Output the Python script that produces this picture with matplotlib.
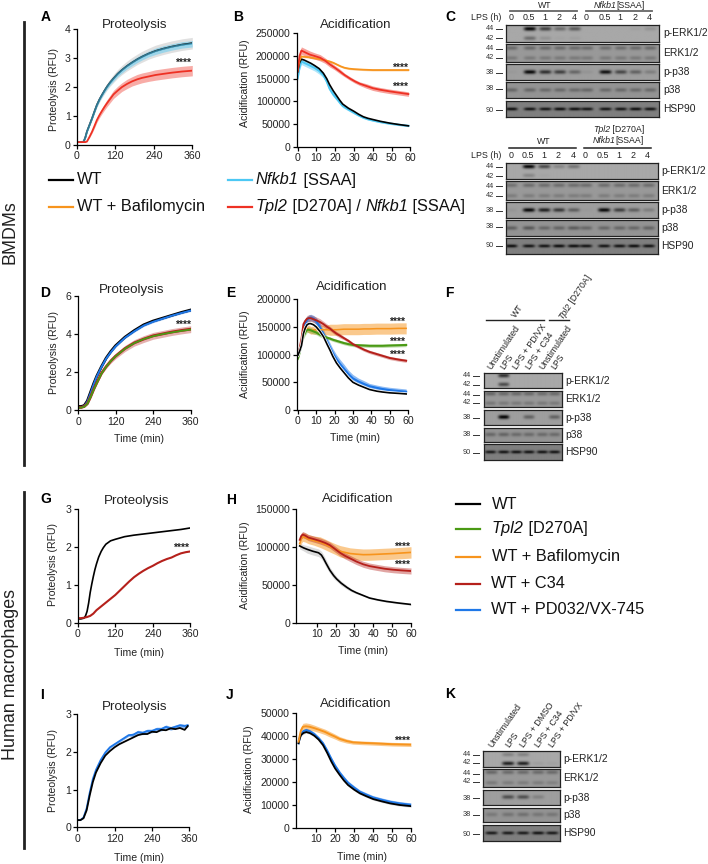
import numpy as np
import matplotlib
matplotlib.use('Agg')
import matplotlib.pyplot as plt

plt.rcParams['font.family'] = ['Liberation Sans', 'DejaVu Sans']

W, H = 708, 864

BLACK = '#000000'
SKY = '#4cc8f4'
ORANGE = '#f7941d'
RED = '#ee3124'
GREEN = '#4a9a14'
DKRED = '#b5201b'
BLUE = '#1f78e8'

# Panel A
t_a = [0, 15, 21, 26, 31, 39, 47, 55, 62, 70, 78, 86, 94, 104, 114, 127, 140, 156, 172, 188, 203, 224, 245, 270, 296, 328, 360]
a_wt = [.1, .1, .12, .26, .46, .69, .92, 1.17, 1.38, 1.57, 1.73, 1.88, 2.02, 2.17, 2.3, 2.46, 2.59, 2.73, 2.85, 2.96, 3.05, 3.16, 3.25, 3.33, 3.4, 3.47, 3.52]
a_wt_sem = [0, 0, 0, .01, .02, .03, .05, .06, .08, .09, .1, .11, .12, .13, .14, .15, .16, .17, .18, .18, .19, .19, .2, .2, .2, .2, .2]
a_ssaa = [.1, .1, .12, .25, .45, .68, .91, 1.16, 1.37, 1.56, 1.72, 1.87, 2.01, 2.16, 2.29, 2.45, 2.58, 2.72, 2.84, 2.95, 3.04, 3.15, 3.24, 3.32, 3.39, 3.46, 3.5]
a_ssaa_sem = [0, 0, 0, .01, .01, .02, .03, .04, .05, .05, .06, .06, .07, .07, .08, .08, .09, .09, .1, .1, .1, .1, .11, .11, .11, .11, .11]
a_tpl = [.1, .1, .1, .1, .12, .28, .46, .67, .86, 1.03, 1.18, 1.32, 1.45, 1.6, 1.75, 1.88, 2.0, 2.11, 2.2, 2.27, 2.32, 2.37, 2.42, 2.46, 2.5, 2.54, 2.57]
a_tpl_sem = [0, 0, 0, 0, .01, .03, .05, .07, .08, .09, .1, .11, .12, .13, .14, .15, .15, .16, .16, .17, .17, .17, .18, .18, .18, .18, .18]

# Panel B
t_b = [0, 1, 2, 3.5, 5, 7, 9, 11.5, 13.7, 15.5, 17, 19, 21, 22.5, 24, 27, 30, 32.5, 35, 37.5, 40, 44, 49, 54, 59]
b_wt = np.array([165, 185, 193, 191, 188, 184, 179, 172, 162, 150, 137, 123, 111, 102, 94, 85, 78, 71.5, 66, 62.5, 60, 56, 52, 48.8, 46]) * 1000
b_wt_sem = [2000] * 25
b_ssaa = np.array([151, 175, 188, 185, 182, 178, 174, 167, 158, 144, 128, 115, 105, 97, 90, 82, 75, 69, 64, 60.5, 58, 54.5, 51, 48.3, 46]) * 1000
b_ssaa_sem = np.array([4, 6, 7, 7, 7, 7, 7, 7, 6, 6, 5, 5, 4, 4, 4, 3, 3, 2, 2, 2, 2, 2, 2, 2, 2]) * 1000
b_baf_t = [0, 1, 2, 4, 6.5, 9, 12, 14.5, 17, 19, 21, 23, 25, 27.5, 30, 35, 40, 59]
b_baf = np.array([168, 190, 199, 198, 197, 195, 193, 190.5, 188, 185, 181, 177, 174, 172, 171, 169.8, 169, 169]) * 1000
b_baf_sem = [2000] * 18
b_tpl_t = [0, 1, 2, 4, 6.5, 9, 12, 14.5, 17, 19.5, 22.5, 25, 28, 30.5, 33, 36.5, 40, 44, 49, 54, 59]
b_tpl = np.array([166, 200, 212, 208, 203, 200, 196, 190, 182, 175, 166, 158, 150, 144, 139, 134, 129, 125.5, 122, 119, 116]) * 1000
b_tpl_sem = np.array([5, 8, 8, 8, 8, 7, 7, 6, 6, 5, 5, 4, 4, 4, 4, 5, 5, 5, 5, 5, 5]) * 1000

# Panel D
t_d = [0, 10, 20, 30, 40, 50, 60, 75, 90, 105, 120, 150, 180, 210, 240, 270, 300, 330, 360]
d_wt = [.2, .2, .25, .5, .95, 1.4, 1.8, 2.3, 2.75, 3.1, 3.4, 3.85, 4.2, 4.5, 4.7, 4.85, 5, 5.15, 5.28]
d_wt_sem = [.02] * 7 + [.04] * 12
d_blue = [.17, .17, .22, .46, .9, 1.36, 1.78, 2.28, 2.72, 3.06, 3.36, 3.82, 4.16, 4.46, 4.66, 4.82, 4.98, 5.12, 5.25]
d_blue_sem = [.03] * 7 + [.05] * 12
d_c34 = [.15, .15, .2, .35, .7, 1.1, 1.45, 1.95, 2.3, 2.6, 2.85, 3.25, 3.55, 3.75, 3.92, 4.02, 4.12, 4.2, 4.27]
d_c34_sem = [.02, .02, .02, .04, .06, .08, .08, .08, .1, .12, .14, .16, .17, .18, .18, .18, .18, .18, .18]
d_green = [.14, .14, .19, .34, .69, 1.08, 1.43, 1.93, 2.29, 2.59, 2.84, 3.24, 3.54, 3.75, 3.9, 4.01, 4.1, 4.18, 4.25]
d_green_sem = [.02] * 19

# Panel E
t_e = [0, 1, 2, 3, 4, 5, 6, 7, 8.5, 10, 12, 14, 16, 17.5, 19, 21, 23, 25, 27.5, 30, 33, 36, 39, 43, 46, 50, 55, 59]
e_wt = np.array([99, 107, 117, 138, 148, 154, 156, 156, 154, 150, 142, 132, 118, 108, 97, 85, 76, 68, 58, 50, 45, 41, 37, 34, 32.5, 31, 30, 29]) * 1000
e_blue = np.array([98, 107, 118, 145, 156, 163, 166, 167, 165, 160, 150, 137, 123, 113, 103, 92, 83, 75, 65, 57, 51.5, 47, 43, 40, 38, 36, 34.3, 33]) * 1000
e_blue_sem = np.array([4, 4, 5, 6, 6, 6, 6, 6, 6, 7, 7, 8, 8, 8, 8, 8, 8, 8, 7, 7, 6, 6, 5, 5, 5, 5, 5, 5]) * 1000
e_baf = np.array([95, 108, 125, 150, 150, 148, 146, 144, 144.5, 145, 145, 145, 145, 145, 145, 145, 145.5, 146, 146, 146, 146, 146.5, 146.5, 147, 147, 147, 147.5, 147.5]) * 1000
e_baf_sem = np.array([3, 3, 4, 6, 6, 7, 7, 7, 7, 8, 8, 9, 9, 10, 10, 10, 10, 10, 10, 10, 10, 10, 10, 10, 10, 10, 10, 10]) * 1000
e_c34 = np.array([100, 112, 130, 155, 161, 165, 166, 166, 164, 162, 159, 155, 150, 147, 143, 138, 134, 130, 125, 119, 114, 109, 105, 101, 98, 94, 91, 89]) * 1000
e_c34_sem = np.array([2, 2, 3, 5, 5, 6, 6, 6, 6, 6, 6, 5, 5, 4, 4, 4, 4, 3, 3, 3, 3, 3, 3, 3, 3, 3, 3, 3]) * 1000
e_green = np.array([93, 105, 120, 133, 140, 145, 145, 144, 142, 140, 136, 133, 130.5, 129, 127, 125, 123, 121, 119, 117.5, 117, 116.5, 116, 116, 116, 116.5, 117, 117.5]) * 1000
e_green_sem = np.array([4, 4, 4, 5, 5, 5, 5, 5, 5, 4, 4, 4, 3, 3, 3, 3, 3, 3, 3, 3, 3, 3, 3, 3, 3, 3, 3, 3]) * 1000

# Panel G
t_g_wt = [0, 10, 20, 25, 30, 35, 40, 45, 50, 55, 60, 67, 75, 82, 90, 105, 120, 150, 180, 210, 240, 270, 300, 330, 360]
g_wt = [.1, .1, .12, .18, .3, .52, .8, 1.02, 1.22, 1.4, 1.55, 1.73, 1.88, 1.98, 2.07, 2.16, 2.2, 2.27, 2.31, 2.34, 2.37, 2.4, 2.43, 2.46, 2.5]
t_g_c34 = [0, 10, 20, 30, 40, 50, 60, 75, 90, 105, 120, 135, 150, 165, 180, 195, 210, 225, 240, 255, 270, 285, 300, 315, 330, 345, 360]
g_c34 = [.12, .12, .13, .15, .18, .24, .33, .43, .53, .63, .73, .85, .97, 1.09, 1.2, 1.29, 1.37, 1.44, 1.5, 1.57, 1.63, 1.68, 1.72, 1.78, 1.83, 1.86, 1.88]

# Panel H
t_h_wt = [1, 3, 5, 8, 11, 12.5, 13.6, 15, 17, 19, 20.6, 23, 26, 28.5, 31, 34.5, 38, 42.5, 47, 53, 60]
h_wt = np.array([101, 98.5, 96.5, 94, 92, 89, 84.6, 78, 69, 62, 57.5, 52, 46.5, 42.5, 39.5, 36, 32.5, 30, 28, 26, 24]) * 1000
h_wt_sem = np.array([4, 4, 5, 5, 5, 5, 5, 5, 4, 4, 3, 3, 2.5, 2, 1.5, 1, 1, 1, 1, 1, 1]) * 1000
t_h = [1, 1.8, 2.6, 4, 5.6, 8.5, 11.8, 14.5, 17, 19.7, 22.4, 25, 27.7, 31, 34.7, 38, 41.8, 46, 50.6, 55, 60]
h_baf = np.array([104, 110, 113, 112, 110, 108, 106, 103, 100, 97, 94, 92.5, 91, 90.2, 89.5, 89.6, 90, 90.5, 91, 91.7, 92.5]) * 1000
h_baf_sem = np.array([6, 6, 6, 6, 6, 6, 7, 7, 7, 7, 7.5, 7.5, 7.5, 7.5, 7.5, 7.5, 7.5, 7.5, 7.5, 7.5, 7.5]) * 1000
h_c34 = np.array([109, 114, 116, 114.5, 112, 110, 107.5, 105, 102, 97, 92, 88, 84.6, 80.5, 76.8, 74.5, 72.8, 71, 69.7, 68.8, 68]) * 1000
h_c34_sem = [4000] * 21

# Panel I
t_i = [0, 10, 20, 30, 40, 50, 60, 75, 90, 105, 120, 135, 150, 165, 180, 195, 210, 225, 240, 255, 270, 285, 300, 315, 330, 345, 355]
i_wt = [.19, .19, .24, .45, .85, 1.2, 1.45, 1.7, 1.9, 2.02, 2.12, 2.2, 2.26, 2.32, 2.38, 2.44, 2.47, 2.47, 2.53, 2.52, 2.58, 2.57, 2.62, 2.6, 2.63, 2.58, 2.68]
i_blue = [.19, .19, .26, .5, .92, 1.28, 1.52, 1.78, 1.98, 2.12, 2.2, 2.28, 2.36, 2.44, 2.45, 2.52, 2.5, 2.55, 2.55, 2.6, 2.6, 2.66, 2.62, 2.66, 2.7, 2.68, 2.7]
i_blue_sem = [0] * 8 + [.03] * 6 + [.05] * 13

# Panel J
t_j = [.7, 1.3, 2, 3.3, 4.8, 6.8, 9, 11.3, 13.6, 15.8, 18, 20, 22.4, 24.6, 26.8, 30, 33, 36.5, 40, 44.5, 49, 54, 60]
j_wt = np.array([36.8, 38.8, 40.4, 41.3, 41.7, 41.2, 40.1, 38.4, 36, 32.6, 28.8, 25.8, 23, 20.6, 18.6, 16.6, 15, 13.7, 12.5, 11.5, 10.6, 9.9, 9.4]) * 1000
j_wt_sem = [500] * 23
j_blue = np.array([36.8, 39.2, 41, 42.1, 42.6, 42, 40.8, 39, 36.8, 33.6, 30, 27, 24, 21.7, 19.6, 17.5, 15.7, 14.4, 13.2, 12.2, 11.3, 10.6, 10]) * 1000
j_blue_sem = [800] * 23
t_j_baf = [.7, 1.3, 2, 3, 4.5, 6.5, 9, 11.8, 14.5, 17, 19.7, 22.4, 26, 29.5, 34, 40, 50, 60]
j_baf = np.array([37.5, 40, 42.5, 44, 44.2, 44, 43.4, 42.6, 41.8, 40.8, 39.8, 38.7, 37.8, 37.2, 37, 36.8, 36.4, 36.2]) * 1000
j_baf_sem = np.array([1, 1.2, 1.4, 1.5, 1.5, 1.4, 1.3, 1.2, 1.2, 1.2, 1.1, 1, 0.9, 0.8, 0.8, 0.8, 0.8, 0.8]) * 1000

# Blot band strengths, one value per lane
c1_perk44 = [0, .95, .6, .35, .45, 0, 0, 0, .04, .12]
c1_perk42 = [0, .35, .12, .03, .05, 0, 0, 0, 0, 0]
c1_erk44 = [.3, .3, .3, .3, .3, .28, .28, .28, .3, .3]
c1_erk42 = [.2, .2, .2, .2, .2, .2, .2, .2, .2, .2]
c1_pp38 = [.03, .95, .7, .6, .35, .06, .9, .55, .38, .2]
c1_p38 = [.3, .3, .28, .28, .28, .3, .28, .28, .28, .28]
c1_hsp = [.9, .85, .85, .9, .9, .85, .85, .85, .9, .85]

c2_perk44 = [0, .95, .55, .2, .3, 0, 0, 0, 0, 0]
c2_perk42 = [0, .2, .03, 0, 0, 0, 0, 0, 0, 0]
c2_erk44 = [.25, .28, .28, .28, .28, .28, .28, .28, .28, .28]
c2_erk42 = [.18, .18, .18, .18, .18, .18, .18, .18, .18, .18]
c2_pp38 = [.05, .95, .8, .65, .4, .03, .95, .6, .4, .2]
c2_p38 = [.35, .4, .3, .32, .38, .3, .3, .3, .3, .32]
c2_hsp = [.9, .85, .85, .9, .9, .85, .85, .85, .9, .85]

f_perk44 = [0, .7, 0, 0, 0, 0]
f_perk42 = [0, .55, 0, 0, 0, 0]
f_erk44 = [.32, .3, .3, .3, .28, .3]
f_erk42 = [.22, .2, .2, .2, .2, .2]
f_pp38 = [0, .98, 0, .38, 0, .38]
f_p38 = [.3, .32, .28, .28, .28, .28]
f_hsp = [.8, .85, .85, .85, .85, .85]

k_perk44 = [0, .22, .22, 0, 0]
k_perk42 = [0, .8, .8, .06, .04]
k_erk44 = [.32, .3, .3, .3, .3]
k_erk42 = [.2, .18, .18, .18, .15]
k_pp38 = [0, .5, .5, .18, 0]
k_p38 = [.18, .22, .24, .2, .2]
k_hsp = [.8, .8, .8, .85, .8]

blot_rows = ['p-ERK1/2', 'ERK1/2', 'p-p38', 'p38', 'HSP90']
lps_hours = ['0', '0.5', '1', '2', '4']
f_lanes = ['Unstimulated', 'LPS', 'LPS + PD/VX', 'LPS + C34', 'Unstimulated', 'LPS']
k_lanes = ['Unstimulated', 'LPS', 'LPS + DMSO', 'LPS + C34', 'LPS + PD/VX']

fig = plt.figure(figsize=(W / 100, H / 100), dpi=100)
renderer = fig.canvas.get_renderer()


def fx(px):
    return px / W


def fy(py):
    return 1 - py / H


def label(px, py, s, **kw):
    kw.setdefault('ha', 'center')
    kw.setdefault('va', 'center')
    return fig.text(fx(px), fy(py), s, **kw)


def rich(px, py, parts, size, angle=0, center=False, color='#222222'):
    # text with italic and upright pieces (mathtext keeps digits upright)
    widths = []
    for s, style in parts:
        t = fig.text(0, 0, s, fontsize=size, style=style)
        widths.append(t.get_window_extent(renderer).width)
        t.remove()
    dx, dy = np.cos(np.radians(angle)), np.sin(np.radians(angle))
    if center:
        px -= sum(widths) / 2 * dx
        py += sum(widths) / 2 * dy
    for (s, style), w in zip(parts, widths):
        label(px, py, s, fontsize=size, style=style, rotation=angle, rotation_mode='anchor', ha='left', color=color)
        px += w * dx
        py -= w * dy


def hline(x0, x1, y, color='#222222', lw=1.0):
    fig.add_artist(plt.Line2D([fx(x0), fx(x1)], [fy(y), fy(y)], color=color, lw=lw))


def curve_axes(x_px, y_px, xlim, ylim, xticks, yticks):
    ax = fig.add_axes([fx(x_px[0]), fy(y_px[1]), (x_px[1] - x_px[0]) / W, (y_px[1] - y_px[0]) / H])
    ax.set_xlim(xlim)
    ax.set_ylim(ylim)
    ax.set_xticks(xticks)
    ax.set_yticks(yticks)
    ax.tick_params(labelsize=7.6, length=3, width=0.9, pad=1.5, color='black', labelcolor='#222222')
    ax.spines['top'].set_visible(False)
    ax.spines['right'].set_visible(False)
    ax.spines['left'].set_linewidth(0.9)
    ax.spines['bottom'].set_linewidth(0.9)
    ax.patch.set_alpha(0)
    return ax


def band(ax, t, mean, sem, color, lw=1.3, alpha=0.38, line_alpha=1.0):
    mean = np.array(mean, dtype=float)
    sem = np.array(sem, dtype=float)
    ax.fill_between(t, mean - sem, mean + sem, color=color, alpha=alpha, lw=0)
    ax.plot(t, mean, color=color, lw=lw, alpha=line_alpha)


def stars(ax, x, y):
    ax.text(x, y, '****', fontsize=7.4, ha='center', va='center', fontweight='bold', color='#222222')


# A
ax = curve_axes((77, 192.3), (29.3, 145), (0, 360), (0, 4), [0, 120, 240, 360], [0, 1, 2, 3, 4])
band(ax, t_a, a_wt, a_wt_sem, '#9a9a9a', lw=1.3, alpha=0.3)
ax.plot(t_a, a_wt, color=BLACK, lw=1.2)
band(ax, t_a, a_ssaa, a_ssaa_sem, SKY, lw=1.4, alpha=0.45, line_alpha=0.6)
band(ax, t_a, a_tpl, a_tpl_sem, RED, alpha=0.4)
stars(ax, 334, 2.85)

# B
ax = curve_axes((296.7, 410.3), (33.3, 146.7), (-0.5, 60), (0, 250000), [0, 10, 20, 30, 40, 50, 60],
                [0, 50000, 100000, 150000, 200000, 250000])
band(ax, t_b, b_ssaa, b_ssaa_sem, SKY, lw=1.5, alpha=0.45)
ax.plot(t_b, b_wt, color=BLACK, lw=1.2)
band(ax, b_baf_t, b_baf, b_baf_sem, ORANGE)
band(ax, b_tpl_t, b_tpl, b_tpl_sem, RED, alpha=0.45)
stars(ax, 55, 174000)
stars(ax, 55, 132000)

# D
ax = curve_axes((78, 190.7), (296.3, 410.3), (0, 360), (0, 6), [0, 120, 240, 360], [0, 2, 4, 6])
ax.plot(t_d, d_wt, color=BLACK, lw=2.0)
band(ax, t_d, d_blue, d_blue_sem, BLUE, lw=1.4)
band(ax, t_d, d_c34, d_c34_sem, DKRED, lw=2.0, alpha=0.35)
ax.plot(t_d, d_green, color=GREEN, lw=1.3)
stars(ax, 338, 4.48)

# E
ax = curve_axes((297, 408), (299.3, 410), (-0.5, 60), (0, 200000), [0, 10, 20, 30, 40, 50, 60],
                [0, 50000, 100000, 150000, 200000])
band(ax, t_e, e_blue, e_blue_sem, BLUE, lw=1.5, alpha=0.5)
band(ax, t_e, e_baf, e_baf_sem, ORANGE, lw=1.1, alpha=0.5)
band(ax, t_e, e_green, e_green_sem, GREEN, lw=1.5, alpha=0.35)
band(ax, t_e, e_c34, e_c34_sem, DKRED, lw=1.4, alpha=0.35)
ax.plot(t_e, e_wt, color='white', lw=2.2)
ax.plot(t_e, e_wt, color=BLACK, lw=1.2)
stars(ax, 54.7, 159000)
stars(ax, 54.7, 123000)
stars(ax, 54.7, 100000)

# G
ax = curve_axes((77.7, 190.3), (509, 622.7), (0, 360), (0, 3), [0, 120, 240, 360], [0, 1, 2, 3])
ax.plot(t_g_wt, g_wt, color=BLACK, lw=1.2)
ax.plot(t_g_c34, g_c34, color=DKRED, lw=1.5)
stars(ax, 334, 1.97)

# H
ax = curve_axes((296.3, 411), (508.7, 622.7), (-0.8, 60), (0, 150000), [10, 20, 30, 40, 50, 60],
                [0, 50000, 100000, 150000])
band(ax, t_h_wt, h_wt, h_wt_sem, '#888888', lw=0.1, alpha=0.3)
ax.plot(t_h_wt, h_wt, color=BLACK, lw=1.2)
band(ax, t_h, h_baf, h_baf_sem, ORANGE, lw=1.2, alpha=0.5)
band(ax, t_h, h_c34, h_c34_sem, DKRED, lw=1.3, alpha=0.4)
stars(ax, 55.6, 100000)
stars(ax, 55.6, 76000)

# I
ax = curve_axes((77.3, 189.3), (714, 827.3), (0, 360), (0, 3), [0, 120, 240, 360], [0, 1, 2, 3])
band(ax, t_i, i_blue, i_blue_sem, BLUE, lw=1.3, alpha=0.5)
ax.plot(t_i, i_wt, color=BLACK, lw=1.3)

# J
ax = curve_axes((295.7, 411), (713, 827.7), (-0.8, 60), (0, 50000), [10, 20, 30, 40, 50, 60],
                [0, 10000, 20000, 30000, 40000, 50000])
band(ax, t_j, j_wt, j_wt_sem, '#888888', lw=0.1, alpha=0.3)
band(ax, t_j, j_blue, j_blue_sem, BLUE, lw=1.4, alpha=0.45)
ax.plot(t_j, j_wt, color=BLACK, lw=1.3)
band(ax, t_j_baf, j_baf, j_baf_sem, ORANGE, lw=1.4, alpha=0.5)
stars(ax, 55.6, 37700)

# Axis and panel text
for x, y, s in [(135, 25, 'Proteolysis'), (356, 25, 'Acidification'), (131.7, 290, 'Proteolysis'),
                (351.7, 287.3, 'Acidification'), (136.7, 500.7, 'Proteolysis'), (357.7, 499.3, 'Acidification'),
                (134.3, 706.7, 'Proteolysis'), (356, 704, 'Acidification')]:
    label(x, y, s, fontsize=9.6, color='#222222')

for x, y in [(54, 89.7), (54, 352.7), (53.3, 565), (53.3, 770)]:
    label(x, y, 'Proteolysis (RFU)', fontsize=7.6, rotation=90, color='#222222')
for x, y in [(245, 83), (245, 354), (245, 565), (249, 769)]:
    label(x, y, 'Acidification (RFU)', fontsize=7.6, rotation=90, color='#222222')
for x, y in [(139.3, 439.3), (355, 437.7), (139.3, 653.3), (362.7, 651), (138.7, 857.7), (362.3, 856.7)]:
    label(x, y, 'Time (min)', fontsize=7.6, color='#222222')

for x, y, s in [(45.7, 16.7, 'A'), (238, 16.7, 'B'), (450, 16.7, 'C'), (45, 292.7, 'D'), (230.7, 292.7, 'E'),
                (449.3, 292.7, 'F'), (45.7, 499.3, 'G'), (231, 500, 'H'), (42.3, 695, 'I'), (230, 695, 'J'),
                (450, 694.3, 'K')]:
    label(x, y, s, fontsize=10, fontweight='bold')

label(10.5, 232, 'BMDMs', fontsize=12.9, rotation=90, color='#222222')
label(10.5, 674.5, 'Human macrophages', fontsize=12.9, rotation=90, color='#222222')
fig.add_artist(plt.Line2D([fx(24), fx(24)], [fy(21.7), fy(465)], color='#222222', lw=2))
fig.add_artist(plt.Line2D([fx(24), fx(24)], [fy(491.7), fy(848)], color='#222222', lw=2))

# Legends
for x0, x1, xt, y, c, parts in [(49, 73, 77, 180, BLACK, [('WT', 'normal')]),
                                (49, 73, 77, 206.7, ORANGE, [('WT + Bafilomycin', 'normal')]),
                                (228, 252, 256, 180, SKY, [('Nfkb1', 'italic'), (' [SSAA]', 'normal')]),
                                (228, 252, 256, 206.7, RED, [('Tpl2', 'italic'), (' [D270A] / ', 'normal'),
                                                             ('Nfkb1', 'italic'), (' [SSAA]', 'normal')]),
                                (456, 480, 491.7, 504, BLACK, [('WT', 'normal')]),
                                (456, 480, 491.7, 529, GREEN, [('Tpl2', 'italic'), (' [D270A]', 'normal')]),
                                (456, 480, 491.7, 556.7, ORANGE, [('WT + Bafilomycin', 'normal')]),
                                (456, 480, 491, 583.7, DKRED, [('WT + C34', 'normal')]),
                                (456, 480, 491, 610, BLUE, [('WT + PD032/VX-745', 'normal')])]:
    hline(x0, x1, y, color=c, lw=1.6)
    rich(xt, y, parts, 11.8, color='#111111')


def blot(x_px, y_px, lane_x, upper, lower=None, bg=0.62, half=13.0, ypos=(0.22, 0.78), thick=1.5):
    # upper/lower are band strengths per lane; a row with one band sits in the middle
    ax = fig.add_axes([fx(x_px[0]), fy(y_px[1]), (x_px[1] - x_px[0]) / W, (y_px[1] - y_px[0]) / H])
    xs = np.linspace(x_px[0], x_px[1], 300)
    ys = np.linspace(0, 1, 80)
    X, Y = np.meshgrid(xs, ys)
    img = np.full(X.shape, bg)
    rows = [(upper, 0.5)] if lower is None else [(upper, ypos[0]), (lower, ypos[1])]
    sy = thick / (y_px[1] - y_px[0])
    for vals, yc in rows:
        for lx, v in zip(lane_x, vals):
            img = img - bg * v * np.exp(-((X - lx) / half) ** 4) * np.exp(-((Y - yc) / sy) ** 2 / 2)
    ax.imshow(np.clip(img, 0, 1), cmap='gray', vmin=0, vmax=1, aspect='auto', interpolation='bilinear',
              extent=(x_px[0], x_px[1], 1, 0))
    ax.set_xticks([])
    ax.set_yticks([])
    for s in ax.spines.values():
        s.set_linewidth(0.9)
        s.set_color('#222222')


def mw(px_right, py, s):
    label(px_right - 9, py, s, fontsize=5.3, ha='right', color='#333333')
    hline(px_right - 7, px_right - 1.5, py, color='#333333', lw=0.7)


def blot_set(x_px, rows_px, lane_x, data, half, name_x, name_size=7.4):
    bgs = [0.66, 0.6, 0.62, 0.58, 0.5]
    for (yy, d, bg, name) in zip(rows_px, data, bgs, blot_rows):
        thick = 1.1 if name == 'HSP90' else 1.4
        if isinstance(d, tuple):
            blot(x_px, yy, lane_x, d[0], d[1], bg=bg, half=half, thick=thick)
        else:
            blot(x_px, yy, lane_x, d, bg=bg, half=half, thick=thick)
        label(name_x, (yy[0] + yy[1]) / 2, name, fontsize=name_size, ha='left', color='#222222')


# C top
lanes_c1 = [511, 529.3, 544.7, 559.3, 574, 586.3, 604.7, 620, 634.7, 649.3]
rows_c1 = [(25.3, 41.7), (44, 61.7), (64.3, 80), (82.3, 98.3), (100.7, 116.7)]
blot_set((505.7, 658.7), rows_c1, lanes_c1,
         [(c1_perk44, c1_perk42), (c1_erk44, c1_erk42), c1_pp38, c1_p38, c1_hsp], 6, 663.5)
for py, s in [(29, '44'), (38, '42'), (48.7, '44'), (57.5, '42'), (72.7, '38'), (89, '38'), (110, '90')]:
    mw(503, py, s)
label(486, 17.7, 'LPS (h)', fontsize=6.4, color='#222222')
for lx, s in zip(lanes_c1, lps_hours * 2):
    label(lx, 17.7, s, fontsize=6.4, color='#222222')
hline(510, 577, 10.5, color='#666666', lw=1.3)
hline(585.5, 652, 10.5, color='#666666', lw=1.3)
label(545, 5.5, 'WT', fontsize=6.3, color='#222222')
rich(619, 5.5, [('Nfkb1', 'italic'), ('[SSAA]', 'normal')], 6.3, center=True)

# C bottom
lanes_c2 = [510.7, 528.3, 543.7, 558.3, 573, 585.3, 603.3, 618.7, 633, 647.7]
rows_c2 = [(163.3, 179.3), (181.3, 200), (202, 217.7), (220, 236), (238.3, 254)]
blot_set((505.7, 657.7), rows_c2, lanes_c2,
         [(c2_perk44, c2_perk42), (c2_erk44, c2_erk42), c2_pp38, c2_p38, c2_hsp], 6, 661.5)
for py, s in [(167, '44'), (176, '42'), (186, '44'), (195.5, '42'), (211, '38'), (227, '38'), (245.5, '90')]:
    mw(503, py, s)
label(486, 155.5, 'LPS (h)', fontsize=6.4, color='#222222')
for lx, s in zip(lanes_c2, lps_hours * 2):
    label(lx, 155.5, s, fontsize=6.4, color='#222222')
hline(509, 575.5, 148, lw=1.1)
hline(584, 650.5, 148, lw=1.1)
label(544, 142, 'WT', fontsize=6.3, color='#222222')
rich(618.5, 129.3, [('Tpl2', 'italic'), (' [D270A]', 'normal')], 6.3, center=True)
rich(618, 140.3, [('Nfkb1', 'italic'), ('[SSAA]', 'normal')], 6.3, center=True)

# F
lanes_f = [490.7, 504, 516.7, 529.3, 542.7, 555]
rows_f = [(372.7, 388.3), (390.7, 407.3), (410, 425.3), (427.7, 442.3), (444.3, 460)]
blot_set((484.3, 562.3), rows_f, lanes_f,
         [(f_perk44, f_perk42), (f_erk44, f_erk42), f_pp38, f_p38, f_hsp], 5.5, 565)
for py, s in [(376, '44'), (384.5, '42'), (394.5, '44'), (403, '42'), (417.7, '38'), (435, '38'), (452.5, '90')]:
    mw(480, py, s)
for lx, s in zip(lanes_f, f_lanes):
    label(lx - 1.5, 369, s, fontsize=6.3, rotation=56, rotation_mode='anchor', ha='left', color='#222222')
hline(485.7, 543.5, 320)
hline(548.5, 568.5, 320)
label(518, 311, 'WT', fontsize=6.3, rotation=56, color='#222222')
rich(575, 297, [('Tpl2', 'italic'), (' [D270A]', 'normal')], 6.3, angle=56, center=True)

# K
lanes_k = [491.7, 508.3, 523.3, 538.3, 552.3]
rows_k = [(750.7, 766.7), (768.7, 787.3), (790, 805.3), (808.3, 822.3), (825.3, 840.7)]
blot_set((483.3, 560), rows_k, lanes_k,
         [(k_perk44, k_perk42), (k_erk44, k_erk42), k_pp38, k_p38, k_hsp], 6, 563.5)
for py, s in [(754.5, '44'), (762.5, '42'), (773.5, '44'), (781.5, '42'), (798, '38'), (815, '38'), (834, '90')]:
    mw(480, py, s)
for lx, s in zip(lanes_k, k_lanes):
    label(lx - 1, 747, s, fontsize=6.3, rotation=55, rotation_mode='anchor', ha='left', color='#222222')

fig.savefig('out.png', dpi=100)
